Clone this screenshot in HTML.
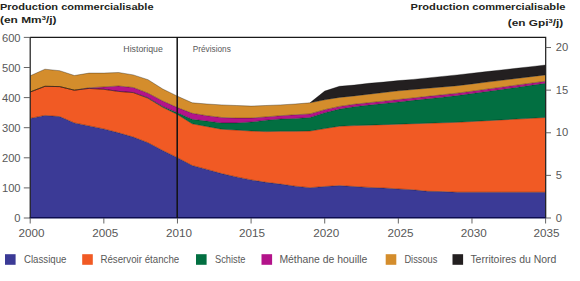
<!DOCTYPE html>
<html><head><meta charset="utf-8"><style>
html,body{margin:0;padding:0;background:#fff;width:580px;height:281px;overflow:hidden}
svg{display:block}
</style></head><body>
<svg width="580" height="281" viewBox="0 0 580 281" font-family="Liberation Sans, sans-serif">
<path d="M30.20,118.40 L44.93,115.40 L59.65,116.60 L74.38,122.90 L89.10,125.90 L103.83,128.90 L118.55,132.80 L133.28,137.00 L148.01,142.70 L162.73,150.50 L177.46,157.70 L192.18,165.50 L206.91,169.40 L221.63,173.60 L236.36,176.90 L251.09,179.90 L265.81,182.30 L280.54,184.10 L295.26,186.20 L309.99,187.70 L324.71,186.50 L339.44,185.60 L354.17,186.50 L368.89,187.40 L383.62,188.00 L398.34,188.90 L413.07,189.80 L427.79,191.30 L442.52,191.60 L457.25,192.20 L471.97,192.20 L486.70,192.20 L501.42,192.20 L516.15,192.20 L530.87,192.20 L545.60,192.20 L545.60,218.00 L30.20,218.00Z" fill="#3b3a96"/>
<path d="M30.20,92.00 L44.93,86.30 L59.65,86.60 L74.38,90.20 L89.10,88.40 L103.83,89.30 L118.55,91.40 L133.28,92.60 L148.01,98.30 L162.73,107.30 L177.46,114.50 L192.18,123.80 L206.91,126.50 L221.63,129.20 L236.36,130.10 L251.09,131.00 L265.81,131.60 L280.54,131.30 L295.26,131.30 L309.99,131.00 L324.71,128.60 L339.44,126.20 L354.17,125.60 L368.89,125.13 L383.62,124.66 L398.34,124.19 L413.07,123.71 L427.79,123.24 L442.52,122.77 L457.25,122.30 L471.97,121.50 L486.70,120.70 L501.42,119.90 L516.15,119.10 L530.87,118.30 L545.60,117.50 L545.60,192.20 L530.87,192.20 L516.15,192.20 L501.42,192.20 L486.70,192.20 L471.97,192.20 L457.25,192.20 L442.52,191.60 L427.79,191.30 L413.07,189.80 L398.34,188.90 L383.62,188.00 L368.89,187.40 L354.17,186.50 L339.44,185.60 L324.71,186.50 L309.99,187.70 L295.26,186.20 L280.54,184.10 L265.81,182.30 L251.09,179.90 L236.36,176.90 L221.63,173.60 L206.91,169.40 L192.18,165.50 L177.46,157.70 L162.73,150.50 L148.01,142.70 L133.28,137.00 L118.55,132.80 L103.83,128.90 L89.10,125.90 L74.38,122.90 L59.65,116.60 L44.93,115.40 L30.20,118.40Z" fill="#f15a24"/>
<path d="M30.20,92.00 L44.93,86.30 L59.65,86.60 L74.38,90.20 L89.10,88.40 L103.83,89.30 L118.55,91.40 L133.28,92.60 L148.01,97.70 L162.73,106.40 L177.46,112.70 L192.18,119.30 L206.91,121.10 L221.63,122.90 L236.36,122.90 L251.09,122.00 L265.81,120.20 L280.54,119.00 L295.26,118.40 L309.99,117.50 L324.71,112.70 L339.44,109.10 L354.17,106.70 L368.89,105.11 L383.62,103.53 L398.34,101.94 L413.07,100.36 L427.79,98.77 L442.52,97.19 L457.25,95.60 L471.97,93.55 L486.70,91.50 L501.42,89.45 L516.15,87.40 L530.87,85.35 L545.60,83.30 L545.60,117.50 L530.87,118.30 L516.15,119.10 L501.42,119.90 L486.70,120.70 L471.97,121.50 L457.25,122.30 L442.52,122.77 L427.79,123.24 L413.07,123.71 L398.34,124.19 L383.62,124.66 L368.89,125.13 L354.17,125.60 L339.44,126.20 L324.71,128.60 L309.99,131.00 L295.26,131.30 L280.54,131.30 L265.81,131.60 L251.09,131.00 L236.36,130.10 L221.63,129.20 L206.91,126.50 L192.18,123.80 L177.46,114.50 L162.73,107.30 L148.01,98.30 L133.28,92.60 L118.55,91.40 L103.83,89.30 L89.10,88.40 L74.38,90.20 L59.65,86.60 L44.93,86.30 L30.20,92.00Z" fill="#026f41"/>
<path d="M30.20,92.00 L44.93,86.30 L59.65,86.60 L74.38,90.20 L89.10,87.80 L103.83,86.90 L118.55,86.00 L133.28,87.50 L148.01,93.20 L162.73,101.00 L177.46,107.60 L192.18,113.30 L206.91,115.70 L221.63,117.50 L236.36,118.10 L251.09,118.10 L265.81,116.90 L280.54,115.70 L295.26,114.80 L309.99,113.90 L324.71,109.70 L339.44,106.40 L354.17,104.30 L368.89,102.71 L383.62,101.13 L398.34,99.54 L413.07,97.96 L427.79,96.37 L442.52,94.79 L457.25,93.20 L471.97,91.20 L486.70,89.20 L501.42,87.20 L516.15,85.20 L530.87,83.20 L545.60,81.20 L545.60,83.30 L530.87,85.35 L516.15,87.40 L501.42,89.45 L486.70,91.50 L471.97,93.55 L457.25,95.60 L442.52,97.19 L427.79,98.77 L413.07,100.36 L398.34,101.94 L383.62,103.53 L368.89,105.11 L354.17,106.70 L339.44,109.10 L324.71,112.70 L309.99,117.50 L295.26,118.40 L280.54,119.00 L265.81,120.20 L251.09,122.00 L236.36,122.90 L221.63,122.90 L206.91,121.10 L192.18,119.30 L177.46,112.70 L162.73,106.40 L148.01,97.70 L133.28,92.60 L118.55,91.40 L103.83,89.30 L89.10,88.40 L74.38,90.20 L59.65,86.60 L44.93,86.30 L30.20,92.00Z" fill="#b3138a"/>
<path d="M30.20,75.80 L44.93,69.20 L59.65,70.70 L74.38,75.50 L89.10,73.10 L103.83,73.10 L118.55,72.50 L133.28,74.90 L148.01,79.70 L162.73,89.00 L177.46,96.20 L192.18,102.80 L206.91,104.00 L221.63,104.90 L236.36,105.50 L251.09,106.10 L265.81,105.50 L280.54,104.90 L295.26,104.00 L309.99,102.80 L324.71,99.80 L339.44,97.40 L354.17,95.90 L368.89,94.20 L383.62,92.50 L398.34,90.80 L413.07,89.53 L427.79,88.25 L442.52,86.97 L457.25,85.70 L471.97,83.90 L486.70,82.10 L501.42,80.30 L516.15,78.50 L530.87,76.70 L545.60,74.90 L545.60,81.20 L530.87,83.20 L516.15,85.20 L501.42,87.20 L486.70,89.20 L471.97,91.20 L457.25,93.20 L442.52,94.79 L427.79,96.37 L413.07,97.96 L398.34,99.54 L383.62,101.13 L368.89,102.71 L354.17,104.30 L339.44,106.40 L324.71,109.70 L309.99,113.90 L295.26,114.80 L280.54,115.70 L265.81,116.90 L251.09,118.10 L236.36,118.10 L221.63,117.50 L206.91,115.70 L192.18,113.30 L177.46,107.60 L162.73,101.00 L148.01,93.20 L133.28,87.50 L118.55,86.00 L103.83,86.90 L89.10,87.80 L74.38,90.20 L59.65,86.60 L44.93,86.30 L30.20,92.00Z" fill="#d48d2c"/>
<path d="M30.20,75.80 L44.93,69.20 L59.65,70.70 L74.38,75.50 L89.10,73.10 L103.83,73.10 L118.55,72.50 L133.28,74.90 L148.01,79.70 L162.73,89.00 L177.46,96.20 L192.18,102.80 L206.91,104.00 L221.63,104.90 L236.36,105.50 L251.09,106.10 L265.81,105.50 L280.54,104.90 L295.26,104.00 L309.99,102.80 L324.71,91.10 L339.44,86.30 L354.17,85.10 L368.89,83.30 L383.62,82.10 L398.34,80.60 L413.07,79.40 L427.79,77.90 L442.52,76.40 L457.25,74.90 L471.97,73.25 L486.70,71.60 L501.42,69.95 L516.15,68.30 L530.87,66.65 L545.60,65.00 L545.60,74.90 L530.87,76.70 L516.15,78.50 L501.42,80.30 L486.70,82.10 L471.97,83.90 L457.25,85.70 L442.52,86.97 L427.79,88.25 L413.07,89.53 L398.34,90.80 L383.62,92.50 L368.89,94.20 L354.17,95.90 L339.44,97.40 L324.71,99.80 L309.99,102.80 L295.26,104.00 L280.54,104.90 L265.81,105.50 L251.09,106.10 L236.36,105.50 L221.63,104.90 L206.91,104.00 L192.18,102.80 L177.46,96.20 L162.73,89.00 L148.01,79.70 L133.28,74.90 L118.55,72.50 L103.83,73.10 L89.10,73.10 L74.38,75.50 L59.65,70.70 L44.93,69.20 L30.20,75.80Z" fill="#231f20"/>
<path d="M30.20,118.40 L44.93,115.40 L59.65,116.60 L74.38,122.90 L89.10,125.90 L103.83,128.90 L118.55,132.80 L133.28,137.00 L148.01,142.70 L162.73,150.50 L177.46,157.70 L192.18,165.50 L206.91,169.40 L221.63,173.60 L236.36,176.90 L251.09,179.90 L265.81,182.30 L280.54,184.10 L295.26,186.20 L309.99,187.70 L324.71,186.50 L339.44,185.60 L354.17,186.50 L368.89,187.40 L383.62,188.00 L398.34,188.90 L413.07,189.80 L427.79,191.30 L442.52,191.60 L457.25,192.20 L471.97,192.20 L486.70,192.20 L501.42,192.20 L516.15,192.20 L530.87,192.20 L545.60,192.20" fill="none" stroke="#000" stroke-opacity="0.45" stroke-width="0.7"/>
<path d="M30.20,92.00 L44.93,86.30 L59.65,86.60 L74.38,90.20 L89.10,88.40 L103.83,89.30 L118.55,91.40 L133.28,92.60 L148.01,98.30 L162.73,107.30 L177.46,114.50 L192.18,123.80 L206.91,126.50 L221.63,129.20 L236.36,130.10 L251.09,131.00 L265.81,131.60 L280.54,131.30 L295.26,131.30 L309.99,131.00 L324.71,128.60 L339.44,126.20 L354.17,125.60 L368.89,125.13 L383.62,124.66 L398.34,124.19 L413.07,123.71 L427.79,123.24 L442.52,122.77 L457.25,122.30 L471.97,121.50 L486.70,120.70 L501.42,119.90 L516.15,119.10 L530.87,118.30 L545.60,117.50" fill="none" stroke="#000" stroke-opacity="0.45" stroke-width="0.7"/>
<path d="M30.20,92.00 L44.93,86.30 L59.65,86.60 L74.38,90.20 L89.10,88.40 L103.83,89.30 L118.55,91.40 L133.28,92.60 L148.01,97.70 L162.73,106.40 L177.46,112.70 L192.18,119.30 L206.91,121.10 L221.63,122.90 L236.36,122.90 L251.09,122.00 L265.81,120.20 L280.54,119.00 L295.26,118.40 L309.99,117.50 L324.71,112.70 L339.44,109.10 L354.17,106.70 L368.89,105.11 L383.62,103.53 L398.34,101.94 L413.07,100.36 L427.79,98.77 L442.52,97.19 L457.25,95.60 L471.97,93.55 L486.70,91.50 L501.42,89.45 L516.15,87.40 L530.87,85.35 L545.60,83.30" fill="none" stroke="#000" stroke-opacity="0.45" stroke-width="0.7"/>
<path d="M30.20,92.00 L44.93,86.30 L59.65,86.60 L74.38,90.20 L89.10,87.80 L103.83,86.90 L118.55,86.00 L133.28,87.50 L148.01,93.20 L162.73,101.00 L177.46,107.60 L192.18,113.30 L206.91,115.70 L221.63,117.50 L236.36,118.10 L251.09,118.10 L265.81,116.90 L280.54,115.70 L295.26,114.80 L309.99,113.90 L324.71,109.70 L339.44,106.40 L354.17,104.30 L368.89,102.71 L383.62,101.13 L398.34,99.54 L413.07,97.96 L427.79,96.37 L442.52,94.79 L457.25,93.20 L471.97,91.20 L486.70,89.20 L501.42,87.20 L516.15,85.20 L530.87,83.20 L545.60,81.20" fill="none" stroke="#000" stroke-opacity="0.45" stroke-width="0.7"/>
<path d="M30.20,75.80 L44.93,69.20 L59.65,70.70 L74.38,75.50 L89.10,73.10 L103.83,73.10 L118.55,72.50 L133.28,74.90 L148.01,79.70 L162.73,89.00 L177.46,96.20 L192.18,102.80 L206.91,104.00 L221.63,104.90 L236.36,105.50 L251.09,106.10 L265.81,105.50 L280.54,104.90 L295.26,104.00 L309.99,102.80 L324.71,99.80 L339.44,97.40 L354.17,95.90 L368.89,94.20 L383.62,92.50 L398.34,90.80 L413.07,89.53 L427.79,88.25 L442.52,86.97 L457.25,85.70 L471.97,83.90 L486.70,82.10 L501.42,80.30 L516.15,78.50 L530.87,76.70 L545.60,74.90" fill="none" stroke="#000" stroke-opacity="0.45" stroke-width="0.7"/>
<path d="M309.99,102.80 L324.71,91.10 L339.44,86.30 L354.17,85.10 L368.89,83.30 L383.62,82.10 L398.34,80.60 L413.07,79.40 L427.79,77.90 L442.52,76.40 L457.25,74.90 L471.97,73.25 L486.70,71.60 L501.42,69.95 L516.15,68.30 L530.87,66.65 L545.60,65.00" fill="none" stroke="#000" stroke-opacity="0.45" stroke-width="0.7"/>
<path d="M30.2,37.4 H545.7 V218" fill="none" stroke="#1a1a1a" stroke-width="1.2"/>
<path d="M30.2,37 V218" fill="none" stroke="#1a1a1a" stroke-width="1.2"/>
<path d="M29.6,217.7 H546" fill="none" stroke="#0c0c50" stroke-width="1.4"/>
<path d="M177.2,37 V218" fill="none" stroke="#111" stroke-width="1.5"/>
<path d="M23.8,218.00 H30.2" stroke="#555" stroke-width="0.9"/>
<text x="20.6" y="222.30" font-size="11.2" fill="#585858" text-anchor="end">0</text>
<path d="M23.8,187.90 H30.2" stroke="#555" stroke-width="0.9"/>
<text x="20.6" y="192.20" font-size="11.2" fill="#585858" text-anchor="end">100</text>
<path d="M23.8,157.80 H30.2" stroke="#555" stroke-width="0.9"/>
<text x="20.6" y="162.10" font-size="11.2" fill="#585858" text-anchor="end">200</text>
<path d="M23.8,127.70 H30.2" stroke="#555" stroke-width="0.9"/>
<text x="20.6" y="132.00" font-size="11.2" fill="#585858" text-anchor="end">300</text>
<path d="M23.8,97.60 H30.2" stroke="#555" stroke-width="0.9"/>
<text x="20.6" y="101.90" font-size="11.2" fill="#585858" text-anchor="end">400</text>
<path d="M23.8,67.50 H30.2" stroke="#555" stroke-width="0.9"/>
<text x="20.6" y="71.80" font-size="11.2" fill="#585858" text-anchor="end">500</text>
<path d="M23.8,37.40 H30.2" stroke="#555" stroke-width="0.9"/>
<text x="20.6" y="41.70" font-size="11.2" fill="#585858" text-anchor="end">600</text>
<path d="M545.7,218.00 H551" stroke="#555" stroke-width="0.9"/>
<text x="555.8" y="221.60" font-size="11.2" fill="#585858">0</text>
<path d="M545.7,175.38 H551" stroke="#555" stroke-width="0.9"/>
<text x="555.8" y="178.98" font-size="11.2" fill="#585858">5</text>
<path d="M545.7,132.77 H551" stroke="#555" stroke-width="0.9"/>
<text x="555.8" y="136.37" font-size="11.2" fill="#585858">10</text>
<path d="M545.7,90.15 H551" stroke="#555" stroke-width="0.9"/>
<text x="555.8" y="93.75" font-size="11.2" fill="#585858">15</text>
<path d="M545.7,47.53 H551" stroke="#555" stroke-width="0.9"/>
<text x="555.8" y="51.13" font-size="11.2" fill="#585858">20</text>
<path d="M30.20,218 V223.5" stroke="#555" stroke-width="0.9"/>
<text x="18.60" y="236.8" font-size="11.2" fill="#585858" textLength="26" lengthAdjust="spacingAndGlyphs">2000</text>
<path d="M103.83,218 V223.5" stroke="#555" stroke-width="0.9"/>
<text x="92.20" y="236.8" font-size="11.2" fill="#585858" textLength="26" lengthAdjust="spacingAndGlyphs">2005</text>
<path d="M177.46,218 V223.5" stroke="#555" stroke-width="0.9"/>
<text x="165.90" y="236.8" font-size="11.2" fill="#585858" textLength="26" lengthAdjust="spacingAndGlyphs">2010</text>
<path d="M251.09,218 V223.5" stroke="#555" stroke-width="0.9"/>
<text x="239.10" y="236.8" font-size="11.2" fill="#585858" textLength="26" lengthAdjust="spacingAndGlyphs">2015</text>
<path d="M324.71,218 V223.5" stroke="#555" stroke-width="0.9"/>
<text x="313.20" y="236.8" font-size="11.2" fill="#585858" textLength="26" lengthAdjust="spacingAndGlyphs">2020</text>
<path d="M398.34,218 V223.5" stroke="#555" stroke-width="0.9"/>
<text x="387.40" y="236.8" font-size="11.2" fill="#585858" textLength="26" lengthAdjust="spacingAndGlyphs">2025</text>
<path d="M471.97,218 V223.5" stroke="#555" stroke-width="0.9"/>
<text x="460.70" y="236.8" font-size="11.2" fill="#585858" textLength="26" lengthAdjust="spacingAndGlyphs">2030</text>
<path d="M545.60,218 V223.5" stroke="#555" stroke-width="0.9"/>
<text x="533.60" y="236.8" font-size="11.2" fill="#585858" textLength="26" lengthAdjust="spacingAndGlyphs">2035</text>
<text x="123.3" y="51.8" font-size="9" fill="#585858" textLength="39.5" lengthAdjust="spacingAndGlyphs">Historique</text>
<text x="192.8" y="51.8" font-size="9" fill="#585858" textLength="38" lengthAdjust="spacingAndGlyphs">Prévisions</text>
<text transform="translate(0,9.6) scale(1,0.89)" font-size="11" fill="#231f20" font-weight="bold" textLength="153.5" lengthAdjust="spacingAndGlyphs">Production commercialisable</text>
<text transform="translate(0,22.7) scale(1,0.89)" font-size="11" fill="#231f20" font-weight="bold" textLength="56.5" lengthAdjust="spacingAndGlyphs">(en Mm<tspan font-size="7" dy="-3">3</tspan><tspan dy="3">/j)</tspan></text>
<text transform="translate(410.6,9.5) scale(1,0.89)" font-size="11" fill="#231f20" font-weight="bold" textLength="154.8" lengthAdjust="spacingAndGlyphs">Production commercialisable</text>
<text transform="translate(507.8,25.8) scale(1,0.89)" font-size="11" fill="#231f20" font-weight="bold" textLength="55.5" lengthAdjust="spacingAndGlyphs">(en Gpi<tspan font-size="7" dy="-3">3</tspan><tspan dy="3">/j)</tspan></text>
<rect x="5" y="254.2" width="10.6" height="10.6" fill="#3b3a96"/>
<text x="24.0" y="262.8" font-size="10.5" fill="#585858" textLength="42.4" lengthAdjust="spacingAndGlyphs">Classique</text>
<rect x="82.2" y="254.2" width="10.6" height="10.6" fill="#f15a24"/>
<text x="100.4" y="262.8" font-size="10.5" fill="#585858" textLength="78.8" lengthAdjust="spacingAndGlyphs">Réservoir étanche</text>
<rect x="196" y="254.2" width="10.6" height="10.6" fill="#026f41"/>
<text x="215.0" y="262.8" font-size="10.5" fill="#585858" textLength="30.4" lengthAdjust="spacingAndGlyphs">Schiste</text>
<rect x="261.5" y="254.2" width="10.6" height="10.6" fill="#b3138a"/>
<text x="279.4" y="262.8" font-size="10.5" fill="#585858" textLength="88" lengthAdjust="spacingAndGlyphs">Méthane de houille</text>
<rect x="385.7" y="254.2" width="10.6" height="10.6" fill="#d48d2c"/>
<text x="404.4" y="262.8" font-size="10.5" fill="#585858" textLength="33" lengthAdjust="spacingAndGlyphs">Dissous</text>
<rect x="452.5" y="254.2" width="10.6" height="10.6" fill="#231f20"/>
<text x="470.4" y="262.8" font-size="10.5" fill="#585858" textLength="86" lengthAdjust="spacingAndGlyphs">Territoires du Nord</text>
</svg>
</body></html>
